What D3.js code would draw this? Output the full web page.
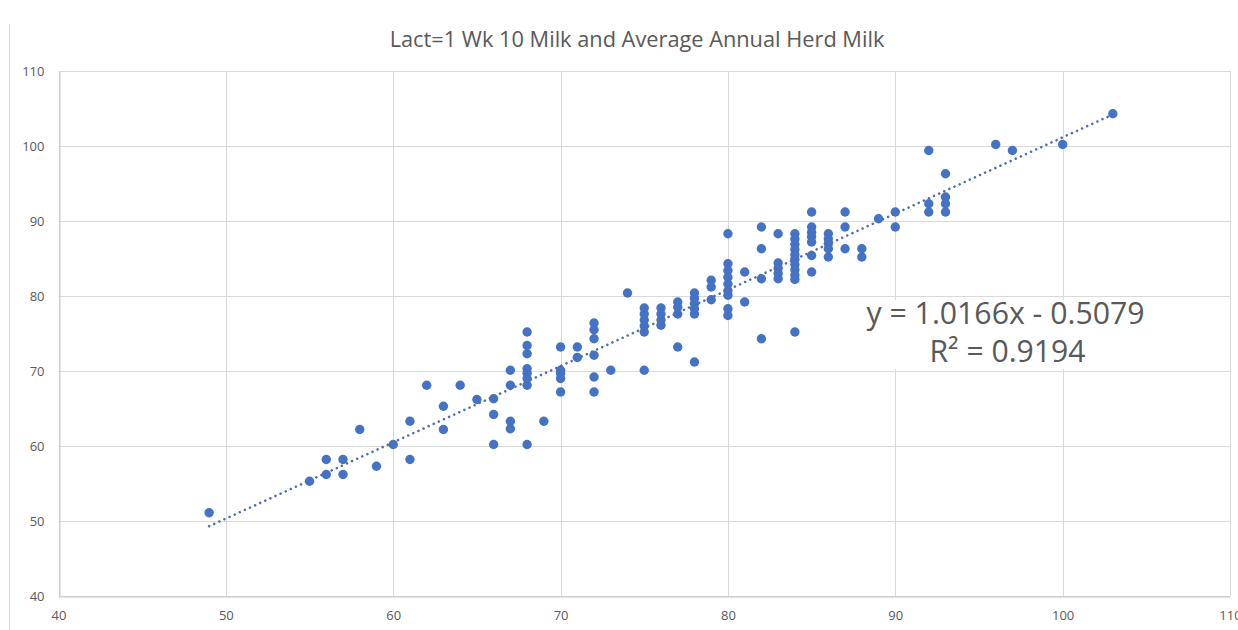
<!DOCTYPE html>
<html>
<head>
<meta charset="utf-8">
<script src="https://cdn.jsdelivr.net/npm/d3@7/dist/d3.min.js"></script>
<style>
  html, body { margin: 0; padding: 0; background: #fff; }
  svg { display: block; font-family: "Open Sans", "Noto Sans", sans-serif; }
</style>
</head>
<body>
<svg id="chart" width="1238" height="630"></svg>
<script>
// ---- Data ----
const titleText = "Lact=1 Wk 10 Milk and Average Annual Herd Milk";
const xTicks = [40, 50, 60, 70, 80, 90, 100, 110];
const yTicks = [40, 50, 60, 70, 80, 90, 100, 110];

// Wk 10 milk (x) and average annual herd milk (y)
const xVals = [
  49, 55, 56, 56, 57, 57, 58, 59, 60, 61, 61, 62, 63, 63, 64, 65,
  66, 66, 66, 67, 67, 67, 67,
  68, 68, 68, 68, 68, 68, 68, 68, 69,
  70, 70, 70, 70, 70, 71, 71,
  72, 72, 72, 72, 72, 72, 73, 74,
  75, 75, 75, 75, 75, 75,
  76, 76, 76, 76,
  77, 77, 77, 77,
  78, 78, 78, 78, 78, 78,
  79, 79, 79,
  80, 80, 80, 80, 80, 80, 80, 80, 80,
  81, 81,
  82, 82, 82, 82,
  83, 83, 83, 83, 83,
  84, 84, 84, 84, 84, 84, 84, 84, 84, 84, 84,
  85, 85, 85, 85, 85, 85, 85,
  86, 86, 86, 86, 86,
  87, 87, 87, 88, 88, 89, 90, 90,
  92, 92, 92, 93, 93, 93, 93, 96, 97, 100, 103
];
const yVals = [
  51.1, 55.3, 58.2, 56.2, 58.2, 56.2, 62.2, 57.3, 60.2, 63.3, 58.2, 68.1, 65.3, 62.2, 68.1, 66.2,
  66.3, 64.2, 60.2, 70.1, 68.1, 63.3, 62.3,
  75.2, 73.4, 72.3, 70.3, 69.7, 69.0, 68.1, 60.2, 63.3,
  73.2, 70.1, 69.7, 69.0, 67.2, 73.2, 71.8,
  76.4, 75.5, 74.3, 72.1, 69.2, 67.2, 70.1, 80.4,
  78.4, 77.6, 76.8, 76.0, 75.2, 70.1,
  78.4, 77.6, 76.8, 76.1,
  79.2, 78.5, 77.6, 73.2,
  80.4, 79.7, 79.0, 78.3, 77.6, 71.2,
  82.1, 81.2, 79.5,
  88.3, 84.3, 83.4, 82.5, 81.6, 80.7, 80.1, 78.3, 77.4,
  83.2, 79.2,
  89.2, 86.3, 82.3, 74.3,
  88.3, 84.4, 83.7, 83.0, 82.3,
  88.3, 87.6, 86.9, 86.2, 85.5, 84.9, 84.2, 83.5, 82.8, 82.2, 75.2,
  91.2, 89.2, 88.5, 87.9, 87.2, 85.4, 83.2,
  88.3, 87.6, 87.0, 86.3, 85.2,
  91.2, 89.2, 86.3, 86.3, 85.2, 90.3, 91.2, 89.2,
  99.4, 92.3, 91.2, 96.3, 93.2, 92.3, 91.2, 100.2, 99.4, 100.2, 104.3
];

// Linear trendline shown in the chart
const trendSlope = 1.0166;
const trendIntercept = -0.5079;
const trendRange = [49, 103];
const eqText = "y = 1.0166x - 0.5079";
const r2Text = "R\u00B2 = 0.9194";

// ---- Drawing ----
(function () {
const svg = d3.select("#chart");
const W = 1238, H = 630;
const pLeft = 58.5, pRight = 1230, pTop = 71, pBottom = 596;

const x = d3.scaleLinear().domain([40, 110]).range([pLeft, pRight]);
const y = d3.scaleLinear().domain([40, 110]).range([pBottom, pTop]);

const textColor = "#595959";
const gridColor = "#d9d9d9";
const pointColor = "#4472C4";

// outer chart frame (left edge visible in the reference)
svg.append("line")
  .attr("x1", 9.5).attr("x2", 9.5).attr("y1", 24).attr("y2", H)
  .attr("stroke", "#d9d9d9").attr("stroke-width", 1);

// gridlines
svg.append("g").selectAll("line").data(yTicks).join("line")
  .attr("x1", pLeft).attr("x2", pRight)
  .attr("y1", d => Math.round(y(d)) + 0.5).attr("y2", d => Math.round(y(d)) + 0.5)
  .attr("stroke", gridColor).attr("stroke-width", 1);
svg.append("g").selectAll("line").data(xTicks).join("line")
  .attr("y1", pTop).attr("y2", pBottom)
  .attr("x1", d => Math.round(x(d)) + 0.5).attr("x2", d => Math.round(x(d)) + 0.5)
  .attr("stroke", gridColor).attr("stroke-width", 1);

// axes
const xAxis = d3.axisBottom(x).tickValues(xTicks).tickSize(0).tickPadding(14).tickFormat(d3.format("d"));
const yAxis = d3.axisLeft(y).tickValues(yTicks).tickSize(0).tickPadding(15).tickFormat(d3.format("d"));

const gx = svg.append("g").attr("transform", `translate(0,${Math.round(pBottom) + 0.5})`).call(xAxis);
const gy = svg.append("g").attr("transform", `translate(${Math.round(pLeft) + 0.5},0)`).call(yAxis);
[gx, gy].forEach(g => {
  g.select(".domain").attr("stroke", "#c8c8c8").attr("stroke-width", 1);
  g.selectAll("text").attr("fill", textColor)
    .style("font-family", "'Open Sans', sans-serif").style("font-size", "13px");
});

// points
svg.append("g").selectAll("circle").data(d3.zip(xVals, yVals)).join("circle")
  .attr("cx", d => x(d[0])).attr("cy", d => y(d[1]))
  .attr("r", 4.7).attr("fill", pointColor);

// trendline (dotted)
const line = d3.line().x(d => x(d)).y(d => y(trendSlope * d + trendIntercept));
svg.append("path").datum(trendRange)
  .attr("d", line)
  .attr("fill", "none").attr("stroke", "#4f6fa8")
  .attr("stroke-width", 2.6)
  .attr("stroke-linecap", "round")
  .attr("stroke-dasharray", "0.01 5.6");

// helper: fit font size so text reaches a target width
function fitText(sel, targetWidth, startSize) {
  sel.style("font-size", startSize + "px");
  const w = sel.node().getComputedTextLength();
  if (w > 0) sel.style("font-size", (startSize * targetWidth / w).toFixed(2) + "px");
}

// title
const title = svg.append("text")
  .attr("x", 637).attr("y", 47).attr("text-anchor", "middle")
  .attr("fill", textColor)
  .style("font-family", "'Open Sans', sans-serif")
  .text(titleText);
fitText(title, 495, 18);

// trendline label with white background
svg.append("rect")
  .attr("x", 858).attr("y", 300).attr("width", 297).attr("height", 69)
  .attr("fill", "#fff");
const eq = svg.append("text")
  .attr("x", 1005.5).attr("y", 324).attr("text-anchor", "middle")
  .attr("fill", textColor).style("font-family", "'Open Sans', sans-serif")
  .text(eqText);
fitText(eq, 278, 28);
const r2 = svg.append("text")
  .attr("x", 1007.5).attr("y", 362).attr("text-anchor", "middle")
  .attr("fill", textColor).style("font-family", "'Open Sans', sans-serif")
  .text(r2Text);
fitText(r2, 156, 28);
})();
</script>
</body>
</html>
